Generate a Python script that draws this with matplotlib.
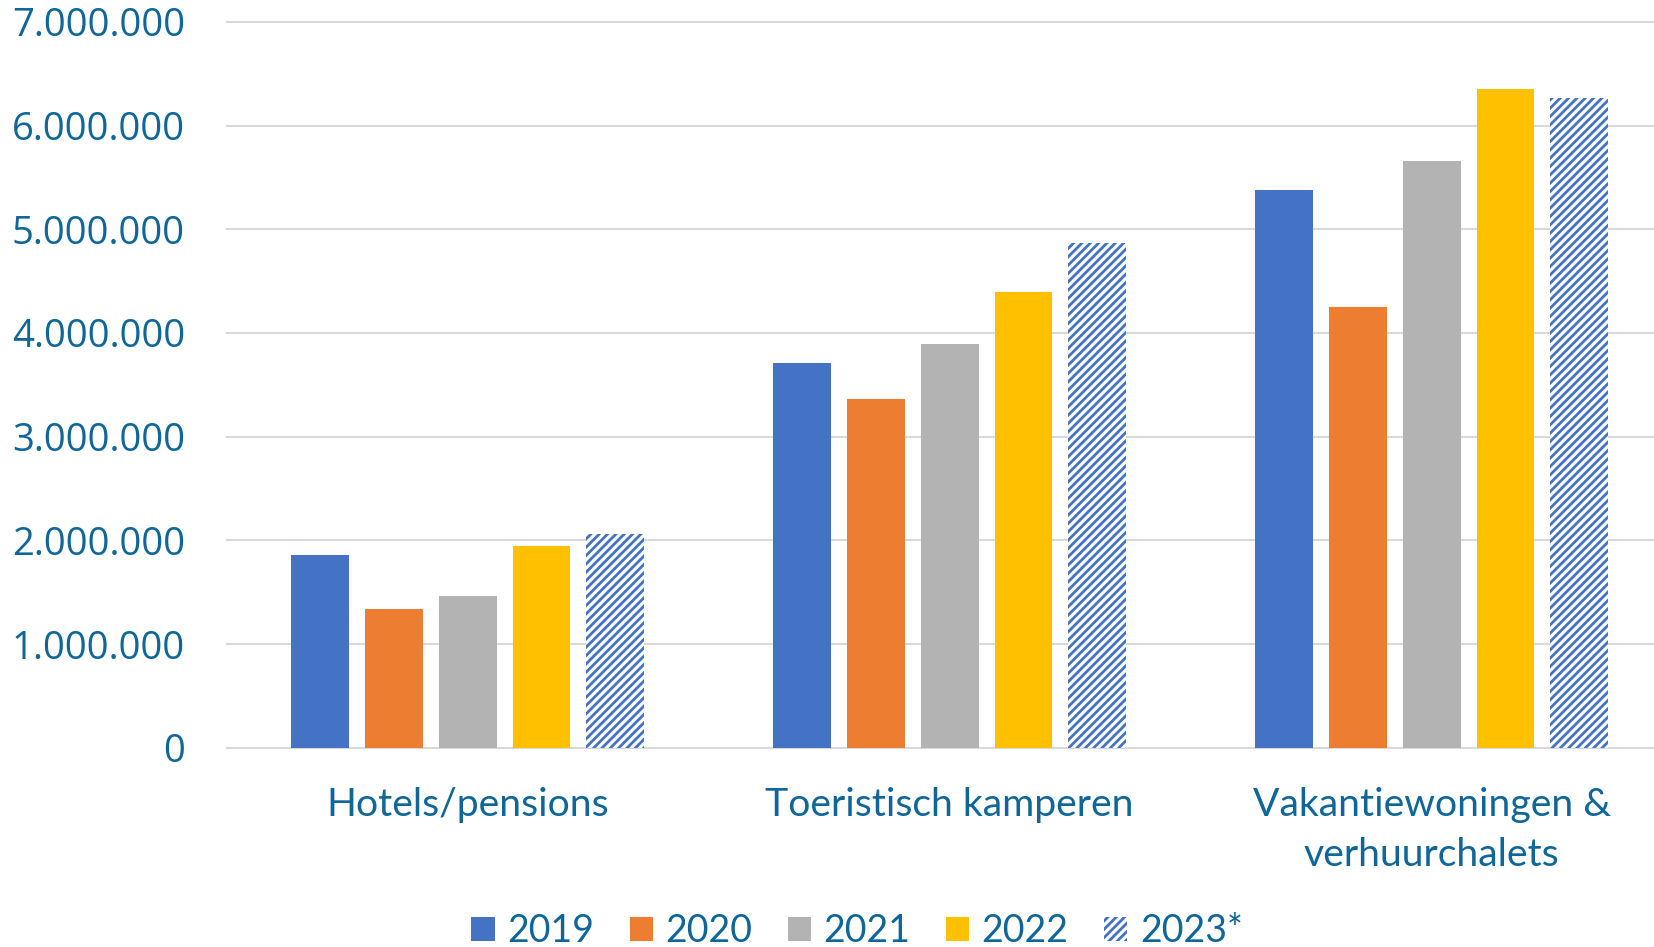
import matplotlib
matplotlib.use("Agg")
import matplotlib.pyplot as plt
from matplotlib.patches import Patch
import numpy as np

categories = ["Hotels/pensions", "Toeristisch kamperen", "Vakantiewoningen &\nverhuurchalets"]
years = ["2019", "2020", "2021", "2022", "2023*"]
v2019 = [1858000, 3707000, 5378000]
v2020 = [1340000, 3366000, 4253000]
v2021 = [1466000, 3893000, 5658000]
v2022 = [1942000, 4394000, 6349000]
v2023 = [2060000, 4864000, 6268000]
yticks = [0, 1000000, 2000000, 3000000, 4000000, 5000000, 6000000, 7000000]
ytick_labels = ["0", "1.000.000", "2.000.000", "3.000.000", "4.000.000", "5.000.000", "6.000.000", "7.000.000"]

series = [v2019, v2020, v2021, v2022, v2023]
colors = ["#4472C4", "#ED7D31", "#B3B3B3", "#FFC000", "#4472C4"]
text_color = "#0E6699"
grid_color = "#D9D9D9"

plt.rcParams['hatch.linewidth'] = 2.0

W, H = 1654, 947
fig = plt.figure(figsize=(W / 100, H / 100), dpi=100)
left = 226.7 / W
bottom = 1 - 747.7 / H
top = 1 - 21.8 / H
ax = fig.add_axes([left, bottom, 1 - left, top - bottom])

x = np.arange(len(categories))
pitch = 0.153
width = 0.12
for i, (vals, c) in enumerate(zip(series, colors)):
    off = (i - 2) * pitch
    if i == 4:
        ax.bar(x + off, vals, width, facecolor="white", edgecolor=c, hatch="////",
               linewidth=0, zorder=3)
    else:
        ax.bar(x + off, vals, width, color=c, linewidth=0, zorder=3)

ax.set_xlim(-0.5, -0.5 + (W - 226.7) / 482.0)
ax.set_ylim(0, 7000000)
ax.set_yticks(yticks)
ax.set_yticklabels(ytick_labels, family="Open Sans", fontsize=27.5, color=text_color)
ax.yaxis.grid(True, color=grid_color, linewidth=1.5, zorder=0)
for g in ax.yaxis.get_gridlines():
    g.set_clip_on(False)
ax.set_xticks(x)
ax.set_xticklabels(categories, family="Lato", fontsize=28.2, color=text_color, linespacing=1.5)
ax.tick_params(axis="y", length=0, pad=30)
ax.tick_params(axis="x", length=0, pad=28)
for s in ax.spines.values():
    s.set_visible(False)

handles = []
for yr, c, i in zip(years, colors, range(5)):
    if i == 4:
        handles.append(Patch(facecolor="white", edgecolor=c, hatch="////", linewidth=0, label=yr))
    else:
        handles.append(Patch(facecolor=c, linewidth=0, label=yr))
leg = fig.legend(handles=handles, loc="center", bbox_to_anchor=(857 / W, 1 - 931 / H),
                 ncol=5, frameon=False,
                 prop={"family": "Lato", "size": 27},
                 handlelength=0.62, handleheight=0.62, handletextpad=0.33, columnspacing=0.95,
                 borderpad=0.1)
for t in leg.get_texts():
    t.set_color(text_color)

fig.savefig("out.png", dpi=100, facecolor="white")
